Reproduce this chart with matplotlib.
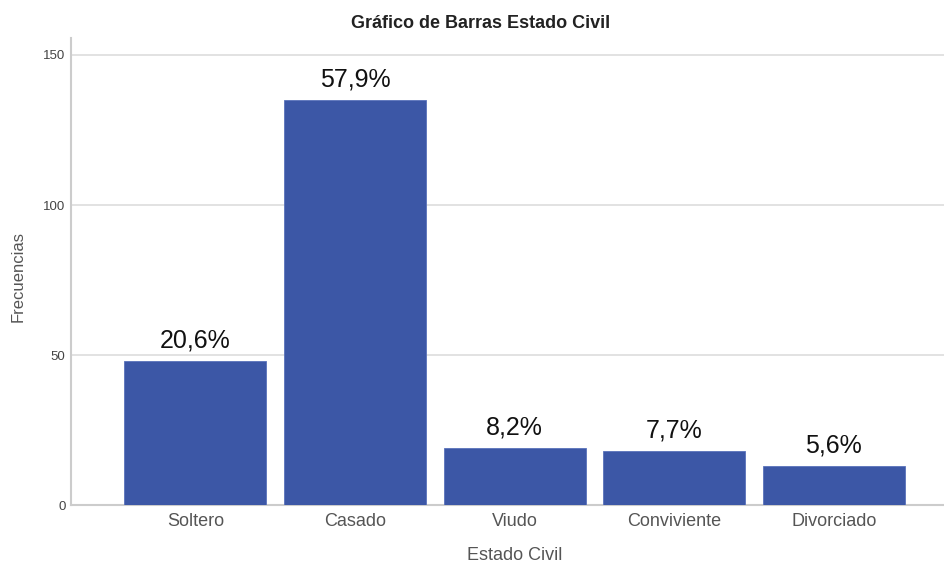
import numpy as np
import matplotlib.pyplot as plt

plt.rcParams['font.family'] = ['Liberation Sans', 'DejaVu Sans']

categorias = ['Soltero', 'Casado', 'Viudo', 'Conviviente', 'Divorciado']
frecuencias = [48, 135, 19, 18, 13]
porcentajes = ['20,6%', '57,9%', '8,2%', '7,7%', '5,6%']
yticks = [0, 50, 100, 150]

fig = plt.figure(figsize=(9.44, 5.65), dpi=100)
ax = fig.add_axes([0.0752, 0.106, 0.9248, 0.827])

x = np.arange(len(categorias))
ax.bar(x, frecuencias, width=0.89, color='#3C57A6', edgecolor='#5a72bb', linewidth=0.6, zorder=3)

for xi, f, p in zip(x, frecuencias, porcentajes):
    ax.text(xi, f + 4.5, p, ha='center', va='baseline', fontsize=18, color='#111111')

ax.set_xlim(-0.78, 4.69)
ax.set_ylim(0, 155.7)
ax.set_xticks(x)
ax.set_xticklabels(categorias, fontsize=13, color='#555555')
ax.set_yticks(yticks)
ax.set_yticklabels([str(v) for v in yticks], fontsize=9.5, color='#444444')
ax.tick_params(length=0)
ax.tick_params(axis='y', pad=4)
ax.tick_params(axis='x', pad=6)

ax.grid(axis='y', color='#dddddd', linewidth=1.2, zorder=0)
for s in ['top', 'right']:
    ax.spines[s].set_visible(False)
for s in ['left', 'bottom']:
    ax.spines[s].set_color('#cccccc')
    ax.spines[s].set_linewidth(1.5)

ax.set_ylabel('Frecuencias', fontsize=12, color='#555555')
ax.yaxis.set_label_coords(-0.052, 0.49)
fig.text(515 / 944, 1 - 555 / 565, 'Estado Civil', ha='center', va='center',
         fontsize=13, color='#555555')
fig.text(481 / 944, 1 - 24 / 565, 'Gráfico de Barras Estado Civil', ha='center', va='center',
         fontsize=13, fontweight='bold', color='#222222')

fig.savefig('out.png', dpi=100)
